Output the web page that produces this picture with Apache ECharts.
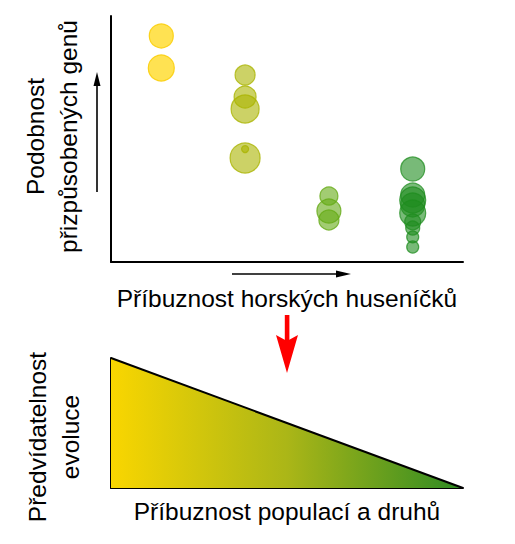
<!DOCTYPE html>
<html>
<head>
<meta charset="utf-8">
<script src="https://cdn.jsdelivr.net/npm/echarts@6/dist/echarts.min.js"></script>
<style>html,body{margin:0;padding:0;background:#fff}#c{width:515px;height:544px}</style>
</head>
<body>
<div id="c"></div>
<script>
// Top panel: similarity of adapted genes (0-100) for four relatedness groups
var groupNames = ['skupina 1', 'skupina 2', 'skupina 3', 'skupina 4'];
var groupX = [1, 2, 3, 4];
var g1Values = [91.9, 78.9];
var g1Sizes = [24, 26];
var g2Values = [76.0, 67.1, 62.2, 42.3, 45.9];
var g2Sizes = [20, 22, 28, 30, 7];
var g3Values = [26.8, 20.7, 17.1];
var g3Sizes = [18, 24, 20];
var g4Values = [37.8, 27.2, 25.2, 23.2, 19.9, 16.3, 13.8, 10.2, 6.1];
var g4Sizes = [24, 24, 26, 24, 26, 16, 14, 12, 12];
// Bottom panel: predictability of evolution vs relatedness
var trendX = [0, 1];
var trendY = [1, 0];

var texts = {
  topY: 'Podobnost\npřizpůsobených genů',
  topX: 'Příbuznost horských huseníčků',
  botY: 'Předvídatelnost\nevoluce',
  botX: 'Příbuznost populací a druhů'
};

var groupColors = [
  ['rgba(255,212,0,0.68)', 'rgba(250,205,0,0.85)'],
  ['rgba(170,180,0,0.6)', 'rgba(170,180,0,0.8)'],
  ['rgba(100,170,20,0.6)', 'rgba(100,170,20,0.8)'],
  ['rgba(30,140,30,0.6)', 'rgba(30,140,30,0.75)']
];

function pts(xv, vals, sizes) {
  return vals.map(function (v, i) { return [xv, v, sizes[i]]; });
}
var groupData = [
  pts(groupX[0], g1Values, g1Sizes),
  pts(groupX[1], g2Values, g2Sizes),
  pts(groupX[2], g3Values, g3Sizes),
  pts(groupX[3], g4Values, g4Sizes)
];

var FONT = 'Liberation Sans';
var FS = 24.5;
var axisLine = { show: true, onZero: false, lineStyle: { color: '#000', width: 2 } };
function baseAxis(extra) {
  var a = {
    type: 'value', axisLine: axisLine, axisTick: { show: false },
    axisLabel: { show: false }, splitLine: { show: false },
    nameLocation: 'middle',
    nameTextStyle: { fontFamily: FONT, fontSize: FS, color: '#000', lineHeight: 33 }
  };
  for (var k in extra) a[k] = extra[k];
  return a;
}

var chart = echarts.init(document.getElementById('c'), null, { renderer: 'svg' });
var series = groupData.map(function (d, i) {
  return {
    name: groupNames[i], type: 'scatter', xAxisIndex: 0, yAxisIndex: 0,
    data: d,
    symbolSize: function (v) { return v[2]; },
    itemStyle: { color: groupColors[i][0], borderColor: groupColors[i][1], borderWidth: 1.2, opacity: 1 },
    emphasis: { disabled: true }, silent: true
  };
});
series.push({
  type: 'line', xAxisIndex: 1, yAxisIndex: 1,
  data: trendX.map(function (x, i) { return [x, trendY[i]]; }),
  symbol: 'none', lineStyle: { color: '#000', width: 2 },
  areaStyle: {
    opacity: 1,
    color: new echarts.graphic.LinearGradient(0, 0, 1, 0, [
      { offset: 0, color: '#f9d600' },
      { offset: 0.5, color: '#abb617' },
      { offset: 1, color: '#2e8b23' }
    ])
  },
  silent: true, z: 1
});

chart.setOption({
  animation: false,
  backgroundColor: '#fff',
  grid: [
    { left: 111, top: 16, width: 352, height: 246 },
    { left: 111, top: 358, width: 352, height: 130 }
  ],
  xAxis: [
    baseAxis({ gridIndex: 0, min: 0.4, max: 4.6, name: texts.topX, nameGap: 22,
      nameTextStyle: { fontFamily: FONT, fontSize: FS, color: '#000', lineHeight: 28 } }),
    baseAxis({ gridIndex: 1, min: 0, max: 1, name: texts.botX, nameGap: 9,
      nameTextStyle: { fontFamily: FONT, fontSize: FS, color: '#000', lineHeight: 28 } })
  ],
  yAxis: [
    baseAxis({ gridIndex: 0, min: 0, max: 100, name: texts.topY, nameRotate: 90, nameGap: 26,
      nameTextStyle: { fontFamily: FONT, fontSize: FS, color: '#000', lineHeight: 33, padding: [0, 0, 0, 5] } }),
    baseAxis({ gridIndex: 1, min: 0, max: 1, name: texts.botY, nameRotate: 90, nameGap: 24,
      nameTextStyle: { fontFamily: FONT, fontSize: FS, color: '#000', lineHeight: 33, padding: [0, 28, 0, 0] } })
  ],
  series: series,
  graphic: [
    { type: 'line', shape: { x1: 232, y1: 274, x2: 340, y2: 274 }, style: { stroke: '#000', lineWidth: 1.6 } },
    { type: 'polygon', shape: { points: [[336, 270.5], [351, 274], [336, 277.5]] }, style: { fill: '#000' } },
    { type: 'line', shape: { x1: 97, y1: 192, x2: 97, y2: 82 }, style: { stroke: '#000', lineWidth: 1.6 } },
    { type: 'polygon', shape: { points: [[93.5, 86], [97, 72], [100.5, 86]] }, style: { fill: '#000' } },
    { type: 'rect', shape: { x: 284.8, y: 315, width: 4.6, height: 28 }, style: { fill: '#ff0000' } },
    { type: 'polygon', shape: { points: [[276, 335], [287, 341], [298, 335], [287, 373]] }, style: { fill: '#ff0000' } }
  ]
});
</script>
</body>
</html>
